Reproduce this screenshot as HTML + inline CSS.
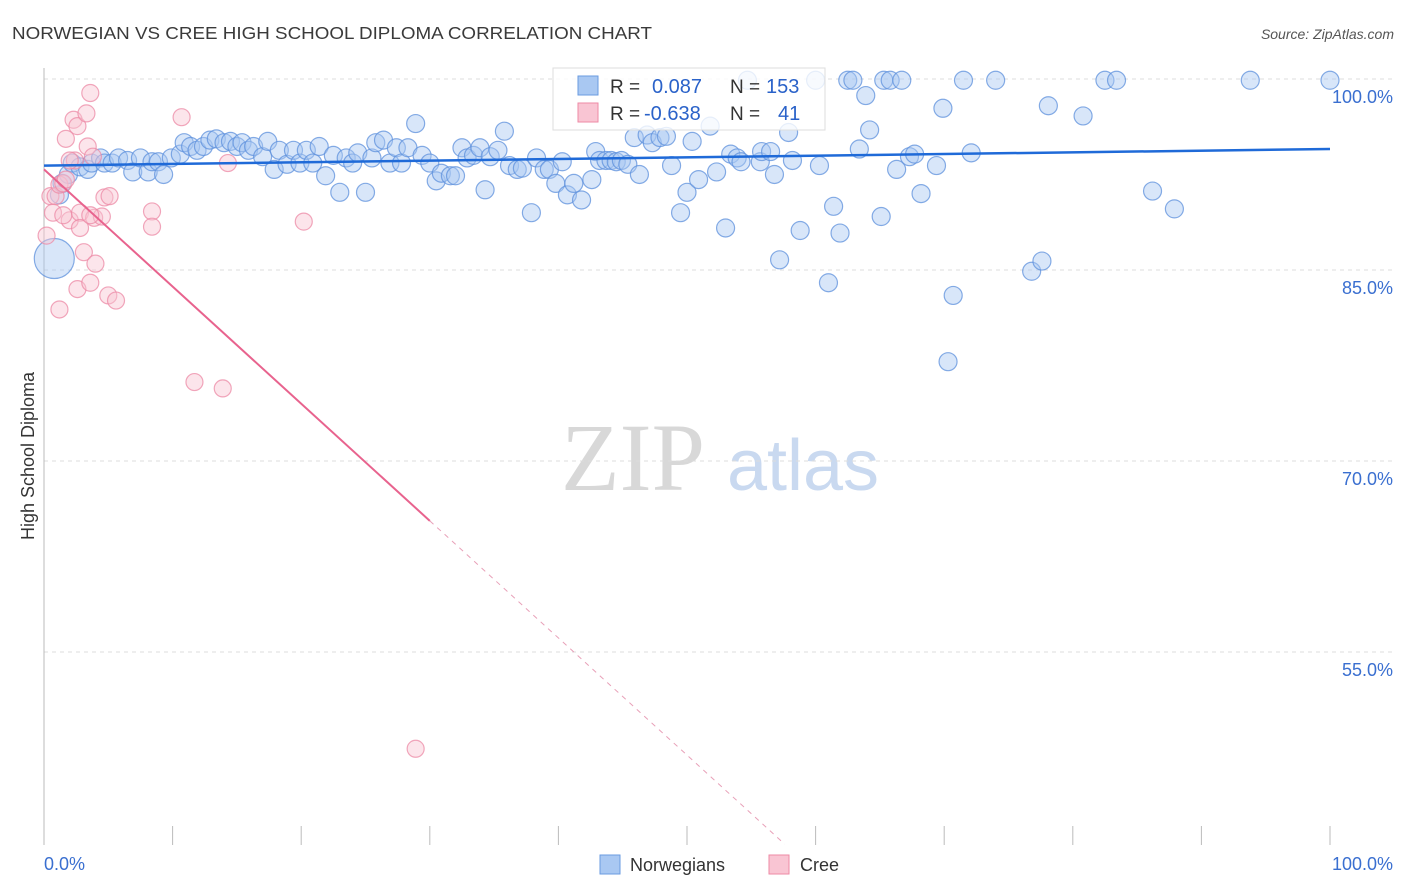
<!DOCTYPE html>
<html><head><meta charset="utf-8"><style>
body{margin:0;background:#fff;font-family:"Liberation Sans",sans-serif;}
svg{display:block}
</style></head><body>
<svg id="chart" width="1406" height="892" xmlns="http://www.w3.org/2000/svg">
<text x="12" y="39" font-size="17.5" fill="#3a3a3a" textLength="640" lengthAdjust="spacingAndGlyphs">NORWEGIAN VS CREE HIGH SCHOOL DIPLOMA CORRELATION CHART</text>
<text x="1394" y="39" font-size="14" fill="#555" font-style="italic" text-anchor="end">Source: ZipAtlas.com</text>
<text x="34" y="456" font-size="18" fill="#333" text-anchor="middle" transform="rotate(-90 34 456)">High School Diploma</text>
<g>
<text x="633" y="490" font-size="96" font-family="Liberation Serif,serif" fill="#d8d8d8" text-anchor="middle">ZIP</text>
<text x="803" y="490" font-size="72" fill="#c9d9f0" text-anchor="middle">atlas</text>
</g>
<g id="grid"></g>
<g id="axes"></g>
<g id="pts"></g>
<g id="lines"></g>
<g>
<rect x="553" y="68" width="272" height="62" fill="#fff" fill-opacity="0.8" stroke="#ddd"/>
<rect x="578" y="76" width="20" height="19" fill="#a9c8f2" stroke="#6a9be0"/>
<rect x="578" y="103" width="20" height="19" fill="#f9c5d3" stroke="#ee8aa6"/>
<text x="610" y="93" font-size="19" fill="#333">R = </text><text x="652" y="93" font-size="20" fill="#2a62c9">0.087</text>
<text x="730" y="93" font-size="19" fill="#333">N = </text><text x="766" y="93" font-size="20" fill="#2a62c9">153</text>
<text x="610" y="120" font-size="19" fill="#333">R = </text><text x="644" y="120" font-size="20" fill="#2a62c9">-0.638</text>
<text x="730" y="120" font-size="19" fill="#333">N = </text><text x="778" y="120" font-size="20" fill="#2a62c9">41</text>
</g>
<g>
<rect x="600" y="855" width="20" height="19" fill="#a9c8f2" stroke="#6a9be0"/>
<text x="630" y="871" font-size="18" fill="#333">Norwegians</text>
<rect x="769" y="855" width="20" height="19" fill="#f9c5d3" stroke="#ee8aa6"/>
<text x="800" y="871" font-size="18" fill="#333">Cree</text>
</g>
</svg>
<script>
const yTicks=[100,85,70,55];
const yTickLabels=["100.0%","85.0%","70.0%","55.0%"];
const xTicks=[0,10,20,30,40,50,60,70,80,90,100];
const xEndLabels=["0.0%","100.0%"];
const norX=[0.8,1.2,1.4,1.9,2.2,2.8,3.4,3.7,4.4,4.7,5.3,5.8,6.5,6.9,7.5,8.1,8.4,8.9,9.3,9.9,10.6,10.9,11.4,11.9,12.4,12.9,13.4,14.0,14.5,15.0,15.4,15.9,16.3,17.0,17.4,17.9,18.3,18.9,19.4,19.9,20.4,20.9,21.4,21.9,22.5,23.0,23.5,24.0,24.4,25.0,25.5,25.8,26.4,26.9,27.4,27.8,28.3,28.9,29.4,30.0,30.5,30.9,31.6,32.0,32.5,32.9,33.4,33.9,34.3,34.7,35.3,35.8,36.2,36.8,37.2,37.9,38.3,38.9,39.3,39.8,40.3,40.7,41.2,41.8,42.6,42.9,43.2,43.7,44.1,44.5,44.9,45.4,45.9,46.3,46.9,47.3,47.9,48.4,48.8,49.5,50.0,50.4,50.9,51.8,52.3,53.0,53.4,53.9,54.2,54.7,55.7,55.8,56.5,56.8,57.2,57.9,58.2,58.8,60.0,60.3,61.0,61.4,61.9,62.5,62.9,63.4,63.9,64.2,65.1,65.3,65.8,66.3,66.7,67.3,67.7,68.2,69.4,69.9,70.7,70.3,71.5,72.1,74.0,76.8,77.6,78.1,80.8,82.5,83.4,86.2,87.9,93.8,100];
const norY=[85.9,90.9,91.8,92.5,93.4,93.1,92.9,93.4,93.8,93.4,93.4,93.8,93.6,92.7,93.8,92.7,93.5,93.5,92.5,93.8,94.1,95.0,94.7,94.4,94.7,95.2,95.3,95.0,95.1,94.7,95.0,94.4,94.7,93.9,95.1,92.9,94.4,93.3,94.4,93.4,94.4,93.4,94.7,92.4,94.0,91.1,93.8,93.4,94.2,91.1,93.8,95.0,95.2,93.4,94.6,93.4,94.6,96.5,94.0,93.4,92.0,92.6,92.4,92.4,94.6,93.8,94.0,94.6,91.3,93.9,94.4,95.9,93.2,92.9,93.0,89.5,93.8,92.9,92.9,91.8,93.5,90.9,91.8,90.5,92.1,94.3,93.6,93.6,93.6,93.5,93.6,93.3,95.4,92.5,95.6,95.0,95.4,95.5,93.2,89.5,91.1,95.1,92.1,96.3,92.7,88.3,94.1,93.8,93.5,99.9,93.5,94.3,94.3,92.5,85.8,95.8,93.6,88.1,99.9,93.2,84.0,90.0,87.9,99.9,99.9,94.5,98.7,96.0,89.2,99.9,99.9,92.9,99.9,93.9,94.1,91.0,93.2,97.7,83.0,77.8,99.9,94.2,99.9,84.9,85.7,97.9,97.1,99.9,99.9,91.2,89.8,99.9,99.9];
const creeX=[0.2,0.5,0.7,0.9,1.2,1.5,1.2,1.7,2.0,2.3,2.4,2.6,2.6,2.8,2.8,3.1,3.3,3.4,3.6,3.6,3.8,3.9,4.0,4.5,4.7,5.0,5.1,5.6,8.4,8.4,10.7,11.7,13.9,14.3,20.2,28.9,1.5,2.0,3.6,1.7];
const creeY=[87.7,90.8,89.5,90.8,91.7,91.8,81.9,95.3,88.9,96.8,93.6,83.5,96.3,89.5,88.3,86.4,97.3,94.7,98.9,84.0,93.9,89.1,85.5,89.2,90.7,83.0,90.8,82.6,89.6,88.4,97.0,76.2,75.7,93.4,88.8,47.4,89.3,93.6,89.3,92.1];
const norTrend=[93.2,0.013]; // intercept, slope
const creeTrend=[92.9,-0.92];
const creeSolidEnd=30, creeDashEnd=57.6;

const NS="http://www.w3.org/2000/svg";
const X=v=>44+v*12.86, Y=v=>79+(100-v)*12.733;
function mk(tag,attrs,parent){const e=document.createElementNS(NS,tag);for(const k in attrs)e.setAttribute(k,attrs[k]);parent.appendChild(e);return e;}
const grid=document.getElementById('grid'),axes=document.getElementById('axes'),pts=document.getElementById('pts'),lines=document.getElementById('lines');
yTicks.forEach((t,i)=>{
 const l=mk('line',{x1:44,x2:1394,y1:Y(t),y2:Y(t),stroke:'#ddd','stroke-dasharray':'4,4'},grid);
 
 
 const tx=mk('text',{x:1393,y:Y(t)+24,'font-size':18,fill:'#3a6fd0','text-anchor':'end'},axes);
 tx.textContent=yTickLabels[i];
 
 
});
const ya=mk('line',{x1:44,x2:44,y1:68,y2:845,stroke:'#bbb'},axes);


xTicks.forEach(t=>{
 const l=mk('line',{x1:X(t),x2:X(t),y1:826,y2:845,stroke:'#bbb'},axes);
 
 
});
const xl0=mk('text',{x:44,y:870,'font-size':18,fill:'#3a6fd0'},axes);xl0.textContent=xEndLabels[0];


const xl1=mk('text',{x:1393,y:870,'font-size':18,fill:'#3a6fd0','text-anchor':'end'},axes);xl1.textContent=xEndLabels[1];


norX.forEach((x,i)=>{
 const c=mk('circle',{cx:X(x),cy:Y(norY[i]),r:i===0?20:9,fill:'#a9c8f2','fill-opacity':0.45,stroke:'#5d90dc','stroke-opacity':0.75,'stroke-width':1.2},pts);
 
 
});
creeX.forEach((x,i)=>{
 const c=mk('circle',{cx:X(x),cy:Y(creeY[i]),r:8.5,fill:'#f9c5d3','fill-opacity':0.45,stroke:'#ec8aa6','stroke-opacity':0.75,'stroke-width':1.2},pts);
 
 
});
const nt=mk('line',{x1:X(0),y1:Y(norTrend[0]),x2:X(100),y2:Y(norTrend[0]+100*norTrend[1]),stroke:'#1f6ad8','stroke-width':2.5},lines);


const ct=mk('line',{x1:X(0),y1:Y(creeTrend[0]),x2:X(creeSolidEnd),y2:Y(creeTrend[0]+creeSolidEnd*creeTrend[1]),stroke:'#e8638e','stroke-width':2},lines);


const cd=mk('line',{x1:X(creeSolidEnd),y1:Y(creeTrend[0]+creeSolidEnd*creeTrend[1]),x2:X(creeDashEnd),y2:Y(creeTrend[0]+creeDashEnd*creeTrend[1]),stroke:'#e8a0b8','stroke-width':1,'stroke-dasharray':'5,5'},lines);


</script>
</body></html>
